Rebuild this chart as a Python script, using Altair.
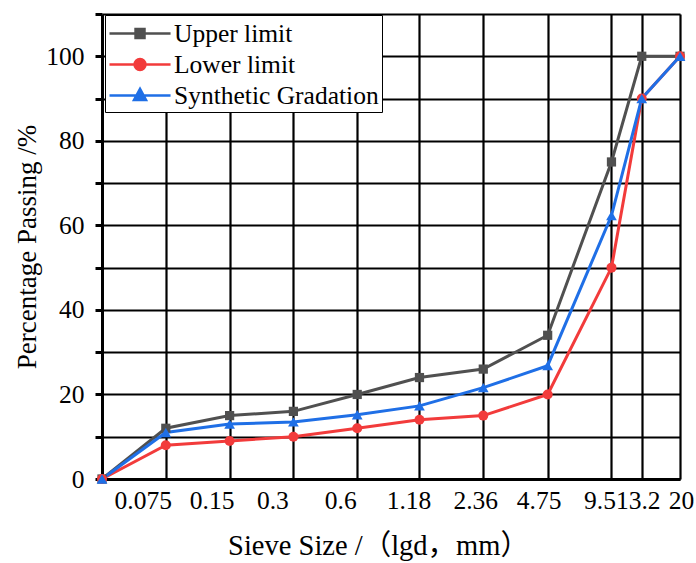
import altair as alt
import pandas as pd

# ---- data ----
sieve_sizes = [0.0375, 0.075, 0.15, 0.3, 0.6, 1.18, 2.36, 4.75, 9.5, 13.2, 20]
upper_limit = [0, 12, 15, 16, 20, 24, 26, 34, 75, 100, 100]
lower_limit = [0, 8, 9, 10, 12, 14, 15, 20, 50, 90, 100]
synthetic_gradation = [0, 11, 13, 13.5, 15.2, 17.3, 21.6, 26.8, 62.3, 90, 100]

series_names = ["Upper limit", "Lower limit", "Synthetic Gradation"]
series_colors = ["#505050", "#f23b3b", "#1f6fe6"]
tick_sizes = [0.075, 0.15, 0.3, 0.6, 1.18, 2.36, 4.75, 9.5, 13.2, 20]
y_ticks = [0, 10, 20, 30, 40, 50, 60, 70, 80, 90, 100, 110]

# horizontal nudges of the x tick labels as placed in the reference (style)
label_nudges = [-23, -18, -21, -17, -11, -8, -9, -12, -4, 1]

# legend glyphs: short line + marker
legend_paths = [
    "M-1,0H3.36M0.86,-0.32H1.5V0.32H0.86Z",
    "M-1,0H3.36M0.79,0A0.39,0.39,0,1,0,1.57,0A0.39,0.39,0,1,0,0.79,0Z",
    "M-1,0H3.36M1.18,-0.47L1.61,0.33H0.75Z",
]
marker_shapes = ["square", "circle", "triangle-up"]
marker_sizes = [85, 115, 120]

rows = []
for name, vals in zip(series_names, [upper_limit, lower_limit, synthetic_gradation]):
    for s, v in zip(sieve_sizes, vals):
        rows.append({"sieve": s, "passing": v, "series": name})
df = pd.DataFrame(rows)

FONT = "Liberation Serif"
TFONT = "Liberation Serif, Noto Sans CJK SC"
LBL = 25.5

label_offset = {
    "condition": [
        {"test": f"datum.value == {v}", "value": d}
        for v, d in zip(tick_sizes, label_nudges)
    ],
    "value": 0,
}

x_enc = alt.X(
    "sieve:Q",
    scale=alt.Scale(type="log", domain=[sieve_sizes[0], sieve_sizes[-1]], nice=False),
    axis=alt.Axis(
        values=tick_sizes, labelExpr="'' + datum.value", ticks=False,
        grid=True, gridColor="black", gridWidth=2.2, gridOpacity=1,
        domainColor="black", domainWidth=3,
        labelFont=FONT, labelFontSize=LBL, labelColor="black", labelPadding=9,
        labelOverlap=False, labelFlush=False, labelOffset=label_offset,
        title="Sieve Size /（lgd，mm）", titleFont=TFONT, titleFontSize=28.5,
        titleFontWeight="normal", titleColor="black", titlePadding=18,
        titleX=276,
    ),
)
y_enc = alt.Y(
    "passing:Q",
    scale=alt.Scale(domain=[0, 110], nice=False),
    axis=alt.Axis(
        values=y_ticks, labelExpr="datum.value % 20 === 0 ? datum.label : ''",
        grid=True, gridColor="black", gridWidth=2.2, gridOpacity=1,
        ticks=True, tickSize=7, tickWidth=3, tickColor="black",
        domainColor="black", domainWidth=3,
        labelFont=FONT, labelFontSize=LBL, labelColor="black", labelPadding=11,
        title="Percentage Passing /%", titleFont=FONT, titleFontSize=27,
        titleFontWeight="normal", titleColor="black", titlePadding=4,
    ),
)

color_scale = alt.Scale(domain=series_names, range=series_colors)

lines = alt.Chart(df).mark_line(strokeWidth=3).encode(
    x=x_enc, y=y_enc,
    color=alt.Color("series:N", scale=color_scale, legend=None),
)

points = alt.Chart(df).mark_point(filled=True, opacity=1).encode(
    x=x_enc, y=y_enc,
    color=alt.Color("series:N", scale=color_scale, legend=None),
    shape=alt.Shape("series:N", scale=alt.Scale(domain=series_names, range=marker_shapes), legend=None),
    size=alt.Size("series:N", scale=alt.Scale(domain=series_names, range=marker_sizes), legend=None),
)

leg = dict(
    title=None, orient="none", legendX=3, legendY=1,
    symbolSize=784, symbolStrokeWidth=2.5, symbolOpacity=1,
    labelFont=FONT, labelFontSize=LBL, labelColor="black", labelOffset=35,
    labelLimit=400, padding=3, strokeColor="black", fillColor="white",
    rowPadding=2,
)

legend_layer = alt.Chart(df).mark_point(filled=True, opacity=0).encode(
    x=x_enc, y=y_enc,
    color=alt.Color("series:N", scale=color_scale, legend=alt.Legend(**leg)),
    stroke=alt.Stroke("series:N", scale=color_scale, legend=alt.Legend(**leg)),
    shape=alt.Shape("series:N", scale=alt.Scale(domain=series_names, range=legend_paths),
                    legend=alt.Legend(**leg)),
)

chart = (
    alt.layer(lines, points, legend_layer)
    .resolve_scale(color="independent", shape="independent", stroke="independent", size="independent")
    .properties(
        width=578, height=465, autosize="none",
        padding={"left": 102, "top": 14, "right": 16, "bottom": 84},
    )
    .configure_view(stroke="black", strokeWidth=3)
    .configure(background="white")
)

chart.save("out.html", embed_options={"renderer": "svg", "actions": False})
